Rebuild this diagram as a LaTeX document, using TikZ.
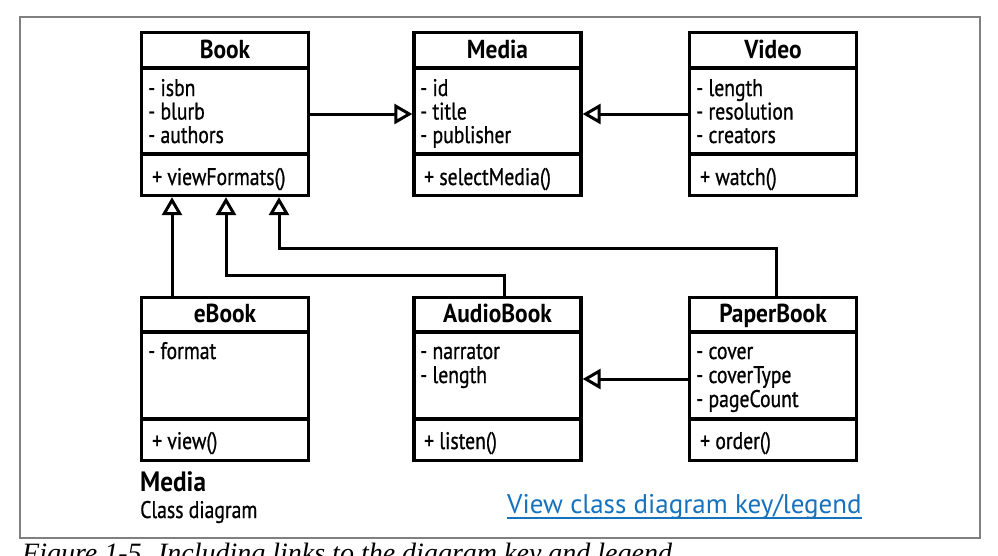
\documentclass[tikz,border=0pt]{standalone}
\usepackage{fontspec}
\usetikzlibrary{arrows.meta,calc}
\newfontfamily\umlfont[FakeStretch=0.82,FakeBold=0.8]{PT Sans}
\newfontfamily\umlhead[FakeStretch=0.9]{PT Sans}
\newfontfamily\linkfont{PT Sans}
\newfontfamily\capfont{Liberation Serif}
\definecolor{linkblue}{RGB}{22,114,190}
\definecolor{framegray}{RGB}{128,128,128}
\begin{document}
\begin{tikzpicture}[x=1pt,y=-1pt,
  classbox/.style={draw=black,line width=3.3pt,inner sep=0pt,minimum width=167pt,minimum height=163pt},
  sepline/.style={draw=black,line width=3.2pt},
  head/.style={font=\umlhead\bfseries\fontsize{26}{28}\selectfont,anchor=base,inner sep=0pt},
  attr/.style={font=\umlfont\fontsize{24}{24}\selectfont,anchor=base west,inner sep=0pt},
  inh/.style={draw=black,line width=3pt,-{Triangle[open,length=18pt,width=20pt,line width=3pt]}}]
\useasboundingbox (0,0) rectangle (998,555);
\fill[white] (0,0) rectangle (998,555);
\draw[framegray,line width=2pt] (19.5,16.5) rectangle (979.5,537.5);
% top row
\node[classbox] (book) at (225,114) {};
\node[classbox] (media) at (497.5,114) {};
\node[classbox] (video) at (773,114) {};
% bottom row
\node[classbox] (ebook) at (225,379) {};
\node[classbox] (audio) at (497.5,379) {};
\node[classbox] (paper) at (773,379) {};
% separators
\foreach \n in {book,media,video}{
  \draw[sepline] (\n.west |- 0,68) -- (\n.east |- 0,68);
  \draw[sepline] (\n.west |- 0,154) -- (\n.east |- 0,154);
}
\foreach \n in {ebook,audio,paper}{
  \draw[sepline] (\n.west |- 0,332) -- (\n.east |- 0,332);
  \draw[sepline] (\n.west |- 0,419) -- (\n.east |- 0,419);
}
% Book
\node[head] (bookh) at (225,58) {Book};
\node[attr] (book1) at (148,96) {- isbn};
\node[attr] (book2) at (148,119.5) {- blurb};
\node[attr] (book3) at (148,143) {- authors};
\node[attr] (bookm) at (152,185) {+ viewFormats()};
% Media
\node[head] (mediah) at (497.5,58) {Media};
\node[attr] (media1) at (420,96) {- id};
\node[attr] (media2) at (420,119.5) {- title};
\node[attr] (media3) at (420,143) {- publisher};
\node[attr] (mediam) at (424,185) {+ selectMedia()};
% Video
\node[head] (videoh) at (773,58) {Video};
\node[attr] (video1) at (696,96) {- length};
\node[attr] (video2) at (696,119.5) {- resolution};
\node[attr] (video3) at (696,143) {- creators};
\node[attr] (videom) at (700,185) {+ watch()};
% eBook
\node[head] (ebookh) at (225,322) {eBook};
\node[attr] (ebook1) at (148,359) {- format};
\node[attr] (ebookm) at (152,449) {+ view()};
% AudioBook
\node[head] (audioh) at (497.5,322) {AudioBook};
\node[attr] (audio1) at (420,359) {- narrator};
\node[attr] (audio2) at (420,383) {- length};
\node[attr] (audiom) at (424,449) {+ listen()};
% PaperBook
\node[head] (paperh) at (773,322) {PaperBook};
\node[attr] (paper1) at (696,359) {- cover};
\node[attr] (paper2) at (696,383) {- coverType};
\node[attr] (paper3) at (696,407) {- pageCount};
\node[attr] (paperm) at (700,449) {+ order()};
% connectors
\coordinate (b1) at (172,0);
\coordinate (j1) at (226,275);
\coordinate (j2) at (279,248);
\coordinate (a1) at (504,0);
\coordinate (p1) at (776,0);
\draw[inh] (book) -- (media);
\draw[inh] (video) -- (media);
\draw[inh] (paper) -- (audio);
\draw[inh] (ebook.north -| b1) -- (book.south -| b1);
\draw[inh] (audio.north -| a1) |- (j1) -- (book.south -| j1);
\draw[inh] (paper.north -| p1) |- (j2) -- (book.south -| j2);
% titles
\node[font=\umlhead\bfseries\fontsize{28}{28}\selectfont,anchor=base west,inner sep=0pt] (title) at (140,491) {Media};
\node[font=\umlfont\fontsize{24}{24}\selectfont,anchor=base west,inner sep=0pt] (subtitle) at (140,518) {Class diagram};
\node[font=\linkfont\fontsize{27}{30}\selectfont,text=linkblue,anchor=base west,inner sep=0pt] (link) at (507,513) {View class diagram key/legend};
\draw[linkblue,line width=1.8pt] ([yshift=-5pt]link.base west) -- ([yshift=-5pt]link.base east);
% caption (cut off at the bottom, as in the reference)
\node[font=\capfont\itshape\fontsize{28}{30}\selectfont,anchor=base west,inner sep=0pt] (caption) at (22,562) {Figure 1-5. Including links to the diagram key and legend};
\end{tikzpicture}
\end{document}
